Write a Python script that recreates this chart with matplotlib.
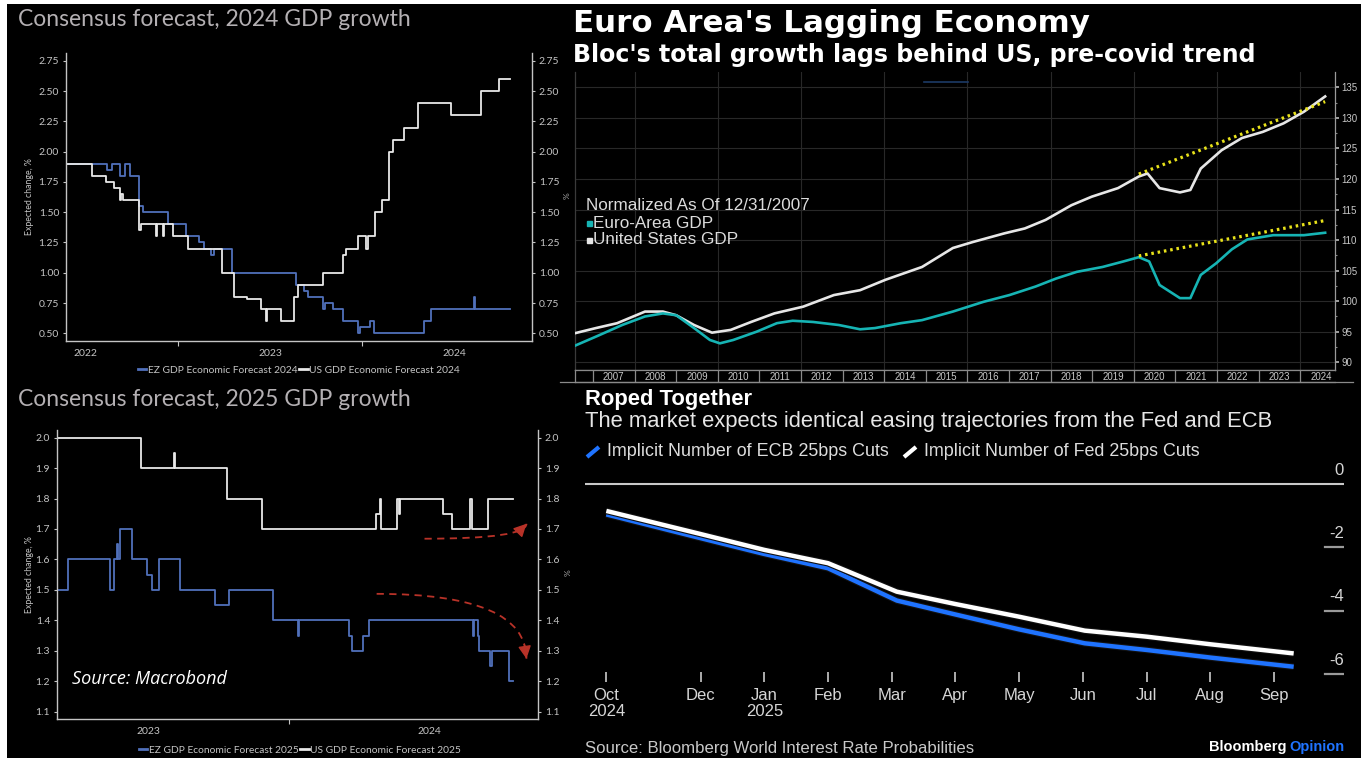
import matplotlib
matplotlib.use('Agg')
import matplotlib.pyplot as plt
from matplotlib.lines import Line2D
from matplotlib.patches import Rectangle, PathPatch
from matplotlib.path import Path
from matplotlib.transforms import blended_transform_factory
import matplotlib.patheffects as pe

# ---------------------------------------------------------------- data
# Panel A: consensus forecast of 2024 GDP growth (step series, decimal years)
ez24_dates = [2021.892, 2022.115, 2022.144, 2022.183, 2022.212, 2022.241, 2022.286, 2022.309,
              2022.444, 2022.542, 2022.616, 2022.639, 2022.678, 2022.693, 2022.794, 2023.140,
              2023.182, 2023.206, 2023.285, 2023.299, 2023.338, 2023.396, 2023.474, 2023.489,
              2023.542, 2023.561, 2023.833, 2023.872, 2024.104, 2024.113, 2024.298]
ez24_vals = [1.9, 1.85, 1.9, 1.8, 1.9, 1.8, 1.55, 1.5, 1.4, 1.3, 1.25, 1.2, 1.15, 1.2, 1.0, 0.9,
             0.85, 0.8, 0.7, 0.75, 0.7, 0.6, 0.5, 0.55, 0.6, 0.5, 0.6, 0.7, 0.8, 0.7, 0.7]
us24_dates = [2021.892, 2022.033, 2022.111, 2022.150, 2022.183, 2022.193, 2022.202, 2022.286,
              2022.299, 2022.381, 2022.387, 2022.416, 2022.425, 2022.470, 2022.552, 2022.736,
              2022.804, 2022.872, 2022.950, 2022.979, 2022.985, 2023.056, 2023.128, 2023.153,
              2023.285, 2023.396, 2023.412, 2023.474, 2023.517, 2023.528, 2023.567, 2023.606,
              2023.645, 2023.668, 2023.726, 2023.800, 2023.978, 2024.143, 2024.240, 2024.298]
us24_vals = [1.9, 1.8, 1.75, 1.7, 1.6, 1.65, 1.6, 1.35, 1.4, 1.3, 1.4, 1.3, 1.4, 1.3, 1.2, 1.0,
             0.8, 0.78, 0.7, 0.6, 0.7, 0.6, 0.8, 0.9, 1.0, 1.15, 1.2, 1.3, 1.2, 1.3, 1.5, 1.6,
             2.0, 2.1, 2.2, 2.4, 2.3, 2.5, 2.6, 2.6]

# Panel B: consensus forecast of 2025 GDP growth
ez25_dates = [2022.677, 2022.717, 2022.865, 2022.880, 2022.890, 2022.894, 2022.900, 2022.943,
              2022.996, 2023.016, 2023.038, 2023.114, 2023.237, 2023.287, 2023.443, 2023.532,
              2023.535, 2023.715, 2023.725, 2023.763, 2023.785, 2024.154, 2024.158, 2024.171,
              2024.177, 2024.216, 2024.220, 2024.282, 2024.297]
ez25_vals = [1.5, 1.6, 1.5, 1.6, 1.65, 1.6, 1.7, 1.6, 1.55, 1.5, 1.6, 1.5, 1.45, 1.5, 1.4, 1.35,
             1.4, 1.35, 1.3, 1.35, 1.4, 1.35, 1.4, 1.35, 1.3, 1.25, 1.3, 1.2, 1.2]
us25_dates = [2022.677, 2022.977, 2023.093, 2023.097, 2023.282, 2023.405, 2023.810, 2023.825,
              2023.829, 2023.886, 2023.891, 2023.895, 2024.048, 2024.080, 2024.145, 2024.149,
              2024.206, 2024.297]
us25_vals = [2.0, 1.9, 1.95, 1.9, 1.8, 1.7, 1.75, 1.8, 1.7, 1.8, 1.75, 1.8, 1.75, 1.7, 1.8, 1.7,
             1.8, 1.8]
# annotation arrows (start, end) in panel B data units
arrow_up = [(2023.982, 1.668), (2024.344, 1.717)]
arrow_down = [(2023.812, 1.487), (2024.344, 1.274)]

# Panel C: GDP normalized as of 12/31/2007
us_gdp_years = [2006.56, 2007.07, 2007.58, 2008.25, 2008.68, 2009.0, 2009.43, 2009.86, 2010.31,
                2010.8, 2011.36, 2012.05, 2012.79, 2013.42, 2014.03, 2014.91, 2015.65, 2016.14,
                2016.89, 2017.38, 2017.88, 2018.5, 2018.99, 2019.62, 2020.12, 2020.33, 2020.62,
                2021.11, 2021.36, 2021.61, 2022.11, 2022.6, 2023.1, 2023.6, 2024.09, 2024.6]
us_gdp_vals = [94.75, 95.6, 96.4, 98.3, 98.3, 97.7, 96.1, 94.85, 95.3, 96.6, 98.0, 99.1, 101.0,
               101.8, 103.5, 105.6, 108.7, 109.7, 111.1, 111.9, 113.3, 115.7, 117.1, 118.5,
               120.4, 120.9, 118.5, 117.8, 118.2, 121.7, 124.7, 126.7, 127.7, 129.1, 131.0, 133.5]
ea_gdp_years = [2006.56, 2007.07, 2007.70, 2008.25, 2008.68, 2009.0, 2009.43, 2009.81, 2010.05,
                2010.37, 2010.93, 2011.42, 2011.80, 2012.29, 2012.91, 2013.42, 2013.78, 2014.40,
                2014.91, 2015.65, 2016.39, 2017.01, 2017.64, 2018.13, 2018.63, 2019.25, 2019.75,
                2020.12, 2020.37, 2020.62, 2021.11, 2021.36, 2021.61, 2021.98, 2022.36, 2022.73,
                2023.35, 2024.09, 2024.6]
ea_gdp_vals = [92.7, 94.2, 96.1, 97.5, 98.0, 97.7, 95.6, 93.65, 93.1, 93.65, 95.0, 96.4, 96.8,
               96.6, 96.1, 95.4, 95.6, 96.4, 96.9, 98.3, 99.9, 101.0, 102.4, 103.7, 104.8, 105.6,
               106.5, 107.2, 106.5, 102.65, 100.5, 100.5, 104.3, 106.2, 108.5, 110.1, 110.8,
               110.8, 111.2]
trend_years = [2020.12, 2024.6]
us_trend_vals = [120.8, 132.65]
ea_trend_vals = [107.4, 113.2]
gdp_ticks = [90, 95, 100, 105, 110, 115, 120, 125, 130, 135]
gdp_year_labels = list(range(2007, 2025))

# Panel D: implied number of 25bp cuts (x = months after 1 Oct 2024)
cut_months = [0.52, 2.0, 3.0, 4.0, 5.08, 6.0, 7.0, 8.03, 9.0, 10.0, 11.31]
ecb_cuts = [-0.96, -1.71, -2.21, -2.66, -3.68, -4.12, -4.59, -5.03, -5.24, -5.48, -5.77]
fed_cuts = [-0.85, -1.58, -2.08, -2.50, -3.40, -3.79, -4.19, -4.63, -4.82, -5.06, -5.35]
month_ticks = [0.52, 2, 3, 4, 5, 6, 7, 8, 9, 10, 11]
month_labels = ['Oct\n2024', 'Dec', 'Jan\n2025', 'Feb', 'Mar', 'Apr', 'May', 'Jun', 'Jul',
                'Aug', 'Sep']
cut_ticks = [0, -2, -4, -6]

# ---------------------------------------------------------------- style
W, H = 1366, 758
MB = ['Lato', 'DejaVu Sans']
BB = ['Liberation Sans', 'DejaVu Sans']
plt.rcParams['font.family'] = MB
EZ_BLUE = '#5070bb'
US_WHITE = '#e8e8e8'
SPINE = '#c4c4c4'
TICKC = '#c4c4c4'
MB_TITLE = '#b4b0b3'

fig = plt.figure(figsize=(W / 100, H / 100), dpi=100, facecolor='white')


def fx(x):
    return x / W


def fy(y):
    return 1 - y / H


def box(x0, y0, x1, y1):
    return [x0 / W, 1 - y1 / H, (x1 - x0) / W, (y1 - y0) / H]


def pxline(x0, y0, x1, y1, **kw):
    fig.add_artist(Line2D([fx(x0), fx(x1)], [fy(y0), fy(y1)], transform=fig.transFigure, **kw))


fig.add_artist(Rectangle((fx(7), 0), fx(1361) - fx(7), fy(4), transform=fig.transFigure,
                         facecolor='black', edgecolor='none', zorder=-10))


# ---------------------------------------------------------------- Macrobond panels
def mb_panel(rect, xlim, ylim, yticks, yfmt, years, mids):
    ax = fig.add_axes(rect)
    ax.set_facecolor('black')
    ax.set_xlim(xlim)
    ax.set_ylim(ylim)
    ax.spines['top'].set_visible(False)
    for s in ['left', 'right', 'bottom']:
        ax.spines[s].set_color(SPINE)
        ax.spines[s].set_linewidth(1.0)
    ax.set_yticks(yticks)
    ax.set_yticklabels([yfmt % v for v in yticks])
    ax.tick_params(axis='y', left=True, right=True, labelleft=True, labelright=True,
                   direction='out', length=2.5, width=0.8, color=SPINE, pad=2.5,
                   labelsize=7.5, labelcolor=TICKC)
    ax.set_xticks(years)
    ax.set_xticklabels([str(y) for y in years])
    ax.set_xticks(mids, minor=True)
    ax.tick_params(axis='x', which='major', length=0, pad=6, labelsize=7.5, labelcolor=TICKC)
    ax.tick_params(axis='x', which='minor', length=3.5, width=0.8, color=SPINE, direction='out')
    return ax


# Panel A
fig.text(fx(18), fy(20), 'Consensus forecast, 2024 GDP growth', fontsize=16.5,
         fontweight='normal', color=MB_TITLE, ha='left', va='center')
axA = mb_panel(box(66, 53, 532, 341), (2021.892, 2024.42), (0.436, 2.816),
               [0.5, 0.75, 1.0, 1.25, 1.5, 1.75, 2.0, 2.25, 2.5, 2.75], '%.2f',
               [2022, 2023, 2024], [2022.5, 2023.5])
axA.step(ez24_dates, ez24_vals, where='post', color=EZ_BLUE, lw=1.3)
axA.step(us24_dates, us24_vals, where='post', color=US_WHITE, lw=1.3)
fig.text(fx(30), fy(197), 'Expected change, %', rotation=90, fontsize=6.3, color=TICKC,
         ha='center', va='center')
fig.text(fx(567), fy(196), '%', rotation=90, fontsize=6, color='#aaaaaa', ha='center',
         va='center')
axA.legend([Line2D([], [], color=EZ_BLUE, lw=2), Line2D([], [], color=US_WHITE, lw=2)],
           ['EZ GDP Economic Forecast 2024', 'US GDP Economic Forecast 2024'],
           loc='center', bbox_to_anchor=(fx(299), fy(370)), bbox_transform=fig.transFigure,
           ncol=2, frameon=False, fontsize=7.4, handlelength=0.8, handletextpad=0.15,
           columnspacing=0.2, labelcolor=TICKC)

# Panel B
fig.text(fx(18), fy(400), 'Consensus forecast, 2025 GDP growth', fontsize=16.5,
         fontweight='normal', color=MB_TITLE, ha='left', va='center')
axB = mb_panel(box(57, 430, 538, 719), (2022.677, 2024.385), (1.076, 2.025),
               [1.1, 1.2, 1.3, 1.4, 1.5, 1.6, 1.7, 1.8, 1.9, 2.0], '%.1f',
               [2023, 2024], [2023.5])
axB.step(ez25_dates, ez25_vals, where='post', color=EZ_BLUE, lw=1.3)
axB.step(us25_dates, us25_vals, where='post', color=US_WHITE, lw=1.3)
fig.text(fx(29), fy(575), 'Expected change, %', rotation=90, fontsize=6.3, color=TICKC,
         ha='center', va='center')
fig.text(fx(568), fy(573), '%', rotation=90, fontsize=6, color='#aaaaaa', ha='center',
         va='center')
axB.legend([Line2D([], [], color=EZ_BLUE, lw=2), Line2D([], [], color=US_WHITE, lw=2)],
           ['EZ GDP Economic Forecast 2025', 'US GDP Economic Forecast 2025'],
           loc='center', bbox_to_anchor=(fx(300), fy(750)), bbox_transform=fig.transFigure,
           ncol=2, frameon=False, fontsize=7.4, handlelength=0.8, handletextpad=0.15,
           columnspacing=0.2, labelcolor=TICKC)
fig.text(fx(72), fy(679), 'Source: Macrobond', fontsize=13, style='italic', color='white',
         family=['Open Sans', 'DejaVu Sans'], ha='left', va='center')

RED = '#b83228'
for (p0, p1), t in ((arrow_up, 0.75), (arrow_down, 0.88)):
    ctrl = (p1[0], p0[1])
    path = Path([p0, ctrl, p1], [Path.MOVETO, Path.CURVE3, Path.CURVE3])
    axB.add_patch(PathPatch(path, fill=False, edgecolor=RED, lw=1.3, linestyle=(0, (4, 3))))
    tail = ((1 - t) ** 2 * p0[0] + 2 * t * (1 - t) * ctrl[0] + t ** 2 * p1[0],
            (1 - t) ** 2 * p0[1] + 2 * t * (1 - t) * ctrl[1] + t ** 2 * p1[1])
    axB.annotate('', xy=p1, xytext=tail,
                 arrowprops=dict(arrowstyle='-|>,head_length=0.55,head_width=0.28',
                                 color=RED, lw=1.0, shrinkA=0, shrinkB=0,
                                 mutation_scale=14))

# ---------------------------------------------------------------- Panel C (Bloomberg GDP)
fig.text(fx(573), fy(24), "Euro Area's Lagging Economy", fontsize=22.2, fontweight='bold',
         color='white', family=['DejaVu Sans'], ha='left', va='center')
fig.text(fx(573), fy(55), "Bloc's total growth lags behind US, pre-covid trend", fontsize=17,
         fontweight='bold', color='white', family=['DejaVu Sans'], ha='left', va='center')

axC = fig.add_axes(box(575, 72, 1335, 370))
axC.set_facecolor('black')
axC.set_xlim(2006.567, 2024.837)
axC.set_ylim(88.74, 137.5)
axC.spines['top'].set_visible(False)
axC.spines['bottom'].set_color('#8a8a8a')
axC.spines['left'].set_color('#3a3a3a')
axC.spines['right'].set_color('#9a9a9a')
for s in axC.spines.values():
    s.set_linewidth(0.9)
axC.set_yticks(gdp_ticks)
axC.set_yticks([v + 2.5 for v in gdp_ticks[:-1]], minor=True)
axC.yaxis.tick_right()
axC.tick_params(axis='y', which='major', direction='out', length=3, width=1.2, color='#bbbbbb',
                pad=1.5, labelsize=7, labelcolor='#c8c8c8', labelfontfamily='Liberation Sans')
axC.tick_params(axis='y', which='minor', direction='out', length=1.5, width=0.8, color='#888888')
axC.set_xticks(list(range(2008, 2025, 2)))
axC.tick_params(axis='x', length=0, labelbottom=False)
axC.grid(True, which='major', color='#282828', lw=0.8)
axC.plot(us_gdp_years, us_gdp_vals, color='#e6e6e6', lw=1.9, zorder=3)
axC.plot(ea_gdp_years, ea_gdp_vals, color='#16b4b4', lw=1.9, zorder=3)
axC.plot(trend_years, us_trend_vals, color='#e8e21a', lw=2.3, linestyle=(0, (0.8, 1.2)), zorder=4)
axC.plot(trend_years, ea_trend_vals, color='#e8e21a', lw=2.3, linestyle=(0, (0.8, 1.2)), zorder=4)

# year strip
axS = fig.add_axes(box(575, 370, 1335, 382))
axS.set_facecolor('black')
axS.set_xlim(axC.get_xlim())
axS.set_ylim(0, 1)
axS.set_xticks([])
axS.set_yticks([])
axS.spines['right'].set_visible(False)
for s in ['top', 'bottom', 'left']:
    axS.spines[s].set_color('#8a8a8a')
    axS.spines[s].set_linewidth(0.9)
axS.vlines(gdp_year_labels, 0, 1, color='#8a8a8a', lw=0.9)
for yv in gdp_year_labels:
    axS.text(yv + 0.5, 0.45, str(yv), ha='center', va='center', fontsize=7,
             color='#c8c8c8', family=BB)
pxline(560, 382, 1353, 382, color='#8a8a8a', lw=0.9)
pxline(924, 82, 968, 82, color='#1c3a66', lw=1.2)

fig.text(fx(586), fy(206), 'Normalized As Of 12/31/2007', fontsize=12.3, color='#dcdcdc',
         family=BB, ha='left', va='center')
fig.add_artist(Line2D([fx(589)], [fy(223)], marker='s', markersize=3.6, color='#16b4b4',
                      linestyle='none', transform=fig.transFigure))
fig.text(fx(593), fy(223), 'Euro-Area GDP', fontsize=12.3, color='#dcdcdc', family=BB,
         ha='left', va='center')
fig.add_artist(Line2D([fx(589)], [fy(240)], marker='s', markersize=3.6, color='#e6e6e6',
                      linestyle='none', transform=fig.transFigure))
fig.text(fx(593), fy(240), 'United States GDP', fontsize=12.3, color='#dcdcdc', family=BB,
         ha='left', va='center')

# ---------------------------------------------------------------- Panel D (Roped together)
fig.text(fx(585), fy(399), 'Roped Together', fontsize=15.8, fontweight='bold', color='white',
         family=BB, ha='left', va='center')
fig.text(fx(585), fy(422), 'The market expects identical easing trajectories from the Fed and ECB',
         fontsize=15.8, color='#e6e6e6', family=BB, ha='left', va='center')
ECB_BLUE = '#1f73ff'
pxline(587, 457, 599, 447, color=ECB_BLUE, lw=3, solid_capstyle='butt')
fig.text(fx(607), fy(452), 'Implicit Number of ECB 25bps Cuts', fontsize=12.9, color='#dddddd',
         family=BB, ha='left', va='center')
pxline(904, 457, 916, 447, color='white', lw=3, solid_capstyle='butt')
fig.text(fx(924), fy(452), 'Implicit Number of Fed 25bps Cuts', fontsize=12.9, color='#dddddd',
         family=BB, ha='left', va='center')

axD = fig.add_axes(box(585, 470, 1344, 682))
axD.set_facecolor('none')
axD.set_xlim(0.185, 12.10)
axD.set_ylim(-6.252, 0.442)
for s in axD.spines.values():
    s.set_visible(False)
axD.axhline(0, color='#c8c8c8', lw=1.5)
bt = blended_transform_factory(axD.transAxes, axD.transData)
for v in cut_ticks:
    if v != 0:
        axD.plot([0.975, 1.0], [v, v], transform=bt, color='#9a9a9a', lw=1.6)
    axD.annotate(str(v), xy=(1.0, v), xycoords=bt, xytext=(0, 4.5), textcoords='offset points',
                 ha='right', va='bottom', fontsize=12, color='#d6d6d6', family=BB)
axD.set_yticks([])
pe_outline = [pe.Stroke(linewidth=4.8, foreground='#111111'), pe.Normal()]
axD.plot(cut_months, ecb_cuts, color=ECB_BLUE, lw=3.2, path_effects=pe_outline,
         solid_capstyle='butt')
axD.plot(cut_months, fed_cuts, color='white', lw=3.2, path_effects=pe_outline,
         solid_capstyle='butt')
axD.set_xticks(month_ticks)
axD.set_xticklabels(month_labels, linespacing=1.08)
axD.tick_params(axis='x', direction='in', length=7, width=1.3, color='#bbbbbb', pad=4,
                labelsize=12, labelcolor='#d6d6d6')
for lbl in axD.get_xticklabels():
    lbl.set_family(BB)

fig.text(fx(585), fy(749), 'Source: Bloomberg World Interest Rate Probabilities', fontsize=12.1,
         color='#c8c8c8', family=BB, ha='left', va='center')
t_op = fig.text(fx(1344), fy(747), 'Opinion', fontsize=10.5, fontweight='bold', color='#1f73ff',
                family=BB, ha='right', va='center')
fig.canvas.draw()
bb = t_op.get_window_extent(renderer=fig.canvas.get_renderer())
fig.text(bb.x0 / W - 2.5 / W, fy(747), 'Bloomberg', fontsize=10.5, fontweight='bold',
         color='white', family=BB, ha='right', va='center')

fig.savefig('out.png', dpi=100, facecolor=fig.get_facecolor())
